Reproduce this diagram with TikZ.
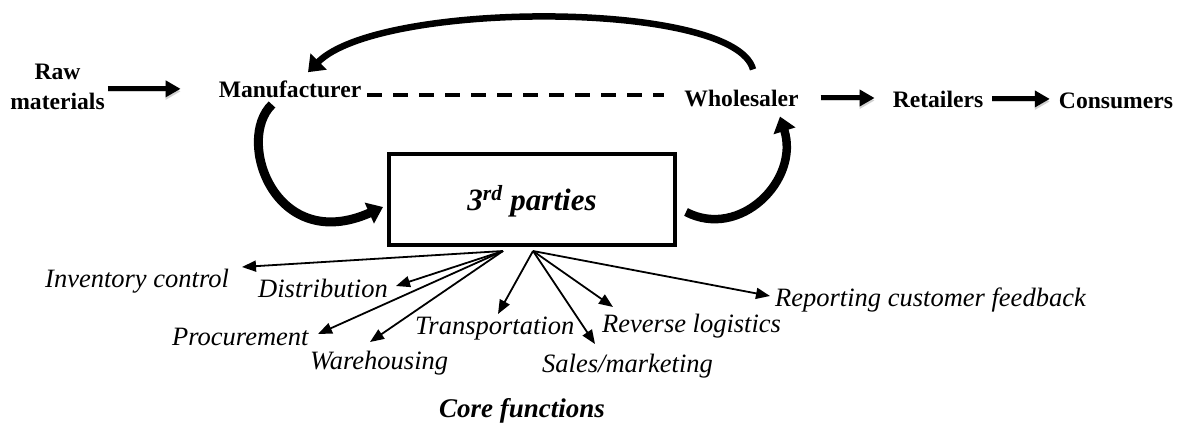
\documentclass[tikz,border=0pt]{standalone}
\usepackage{fontspec}
\setmainfont{Liberation Serif}
\usetikzlibrary{arrows.meta,calc}
\begin{document}
\begin{tikzpicture}[x=1pt,y=-1pt,
  lbl/.style={font=\fontsize{23.6}{30}\selectfont\bfseries, inner sep=0pt, anchor=base},
  fn/.style={font=\fontsize{26.5}{30}\selectfont\itshape, inner sep=0pt, anchor=base west},
  bigarr/.style={line width=5pt, -{Triangle[length=15pt,width=16pt]},
    preaction={draw=black!18, transform canvas={yshift=-2.5pt}}},
  fanarr/.style={line width=1.8pt, -{Triangle[length=14pt,width=11pt]}},
  curv/.style={line width=#1, -{Triangle[length=15pt,width=22pt]}},
  dline/.style={line width=3.5pt, dash pattern=on 15pt off 11pt},
  partbox/.style={draw, line width=4pt, minimum width=286pt, minimum height=91pt,
    inner sep=0pt, text height=21pt, text depth=0pt,
    font=\fontsize{31}{34}\selectfont\bfseries\itshape},
]
\useasboundingbox (0,0) rectangle (1185,429);

% main chain
\node[font=\fontsize{23.6}{30}\selectfont\bfseries, inner sep=0pt, align=center] (raw) at (57.5,86.5) {Raw\\materials};
\node[lbl] (manu) at (290,97) {Manufacturer};
\node[lbl] (whole) at (741.5,106) {Wholesaler};
\node[lbl] (ret) at (938,107) {Retailers};
\node[lbl] (cons) at (1116,108) {Consumers};

\node[partbox] (box) at (532,199.5) {3\textsuperscript{rd} parties};

\draw[bigarr, shorten <=3pt, shorten >=38pt] (raw.east |- manu) -- (manu.west);
\draw[bigarr, shorten <=22pt, shorten >=18pt] (whole.east) -- (whole.east -| ret.west);
\draw[bigarr, shorten <=9pt, shorten >=9pt] (ret.east) -- (ret.east -| cons.west);

\draw[dline, shorten <=6pt, shorten >=20pt] ([yshift=-6pt]manu.east) -- ([yshift=-6pt]manu.east -| whole.west);

% curved arrows
\draw[curv=6.5pt] ([shift={(11.5pt,20pt)}]whole.north) .. controls (735,0) and (380,0) .. ([shift={(18pt,8pt)}]manu.north);
\draw[curv=9pt] ([shift={(-18pt,-7pt)}]manu.south) .. controls (235,140) and (275,255) .. ([shift={(-4pt,-7.5pt)}]box.west);
\draw[curv=8.5pt] ([shift={(9pt,-12.5pt)}]box.east) .. controls (740,240) and (800,180) .. ([shift={(38.5pt,-10pt)}]whole.south);

% core functions
\node[fn] (inv) at (45,287) {Inventory control};
\node[fn] (dist) at (258,297) {Distribution};
\node[fn] (proc) at (172,345) {Procurement};
\node[fn] (ware) at (310,369) {Warehousing};
\node[fn] (trans) at (415,334) {Transportation};
\node[fn] (sales) at (542,372) {Sales/marketing};
\node[fn] (rev) at (602,332) {Reverse logistics};
\node[fn] (rep) at (775,306) {Reporting customer feedback};
\node[font=\fontsize{27}{30}\selectfont\bfseries\itshape, inner sep=0pt, anchor=base] (core) at (522,417) {Core functions};

\coordinate (oL) at ([shift={(-29pt,-4pt)}]box.south);
\coordinate (oR) at ([shift={(1pt,-4pt)}]box.south);
\coordinate (tinv) at (242,267);
\coordinate (tdist) at (396,286);
\coordinate (tproc) at (318,334);
\coordinate (tware) at (370,342);
\coordinate (ttrans) at (498,314);
\coordinate (tsales) at (595,344);
\coordinate (trev) at (613,307);
\coordinate (trep) at (770,296);

\draw[fanarr] (oL) -- (tinv);
\draw[fanarr] (oL) -- (tdist);
\draw[fanarr] (oL) -- (tproc);
\draw[fanarr] (oL) -- (tware);
\draw[fanarr] (oR) -- (ttrans);
\draw[fanarr] (oR) -- (tsales);
\draw[fanarr] (oR) -- (trev);
\draw[fanarr] (oR) -- (trep);
\end{tikzpicture}
\end{document}
